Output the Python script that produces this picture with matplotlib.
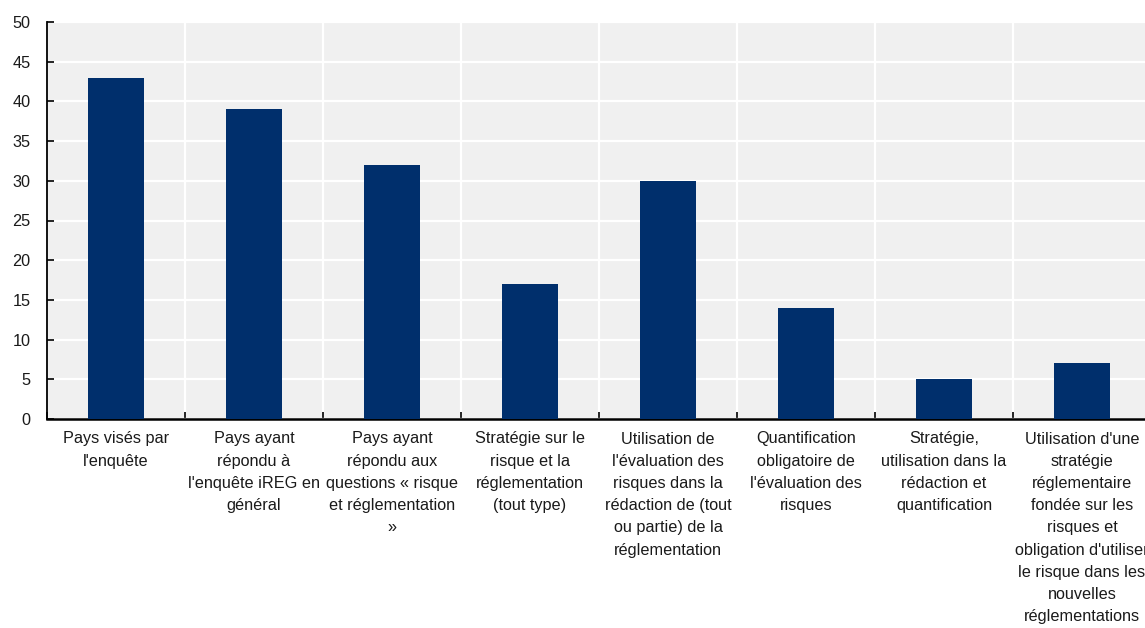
import matplotlib
matplotlib.use("Agg")
import matplotlib.pyplot as plt
import numpy as np

categories = [
    "Pays visés par\nl'enquête",
    "Pays ayant\nrépondu à\nl'enquête iREG en\ngénéral",
    "Pays ayant\nrépondu aux\nquestions « risque\net réglementation\n»",
    "Stratégie sur le\nrisque et la\nréglementation\n(tout type)",
    "Utilisation de\nl'évaluation des\nrisques dans la\nrédaction de (tout\nou partie) de la\nréglementation",
    "Quantification\nobligatoire de\nl'évaluation des\nrisques",
    "Stratégie,\nutilisation dans la\nrédaction et\nquantification",
    "Utilisation d'une\nstratégie\nréglementaire\nfondée sur les\nrisques et\nobligation d'utiliser\nle risque dans les\nnouvelles\nréglementations",
]
values = [43, 39, 32, 17, 30, 14, 5, 7]
y_ticks = [0, 5, 10, 15, 20, 25, 30, 35, 40, 45, 50]

plt.rcParams["font.family"] = ["Liberation Sans", "DejaVu Sans"]
TEXT = "#1a1a1a"
BAR = "#002F6C"
BG = "#F0F0F0"
FS = 11.7

fig = plt.figure(figsize=(11.45, 6.28), dpi=100)
ax = fig.add_axes([47 / 1145, 209 / 628, 1104 / 1145, 397 / 628])
ax.set_facecolor(BG)

x = np.arange(len(categories))
ax.bar(x, values, width=0.4, color=BAR, zorder=3)

ax.set_xlim(-0.5, len(categories) - 0.5)
ax.set_ylim(0, 50)

# horizontal grid at every y tick, vertical separators between categories
ax.set_yticks(y_ticks)
ax.set_yticklabels([str(v) for v in y_ticks], fontsize=FS, color=TEXT)
ax.set_xticks(x)
ax.set_xticklabels(categories, fontsize=FS, color=TEXT, linespacing=1.6,
                   va="top", ha="center")
ax.set_xticks(np.arange(len(categories) + 1) - 0.5, minor=True)

ax.grid(axis="y", which="major", color="white", linewidth=1.6, zorder=1)
ax.grid(axis="x", which="minor", color="white", linewidth=1.6, zorder=1)
ax.grid(axis="x", which="major", visible=False)
ax.set_axisbelow(True)

ax.tick_params(axis="y", direction="in", length=5, width=1.2, color="black", pad=12)
ax.tick_params(axis="x", which="major", length=0, pad=9)
ax.tick_params(axis="x", which="minor", direction="in", length=5, width=1.2, color="black")

for side in ("top", "right"):
    ax.spines[side].set_visible(False)
ax.spines["left"].set_linewidth(1.3)
ax.spines["bottom"].set_linewidth(1.8)
ax.spines["left"].set_color("black")
ax.spines["bottom"].set_color("black")

fig.savefig("out.png", dpi=100)
